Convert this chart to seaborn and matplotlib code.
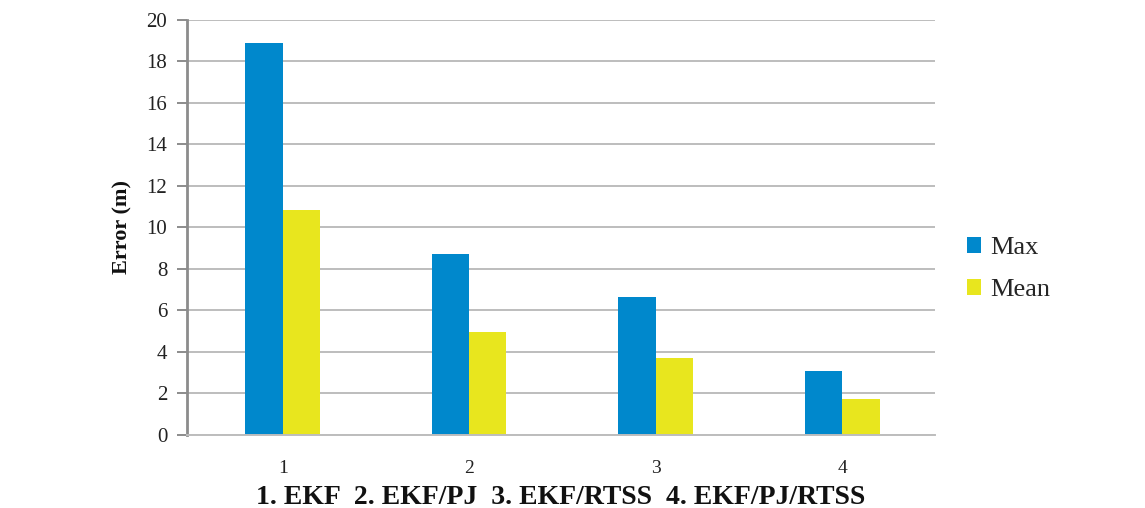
import matplotlib
matplotlib.use("Agg")
import matplotlib.pyplot as plt
import seaborn as sns
import pandas as pd

# Positioning error per filter configuration
categories = ["1", "2", "3", "4"]
max_error = [18.9, 8.72, 6.65, 3.08]
mean_error = [10.85, 4.96, 3.72, 1.72]
series_names = ["Max", "Mean"]
y_ticks = [0, 2, 4, 6, 8, 10, 12, 14, 16, 18, 20]

df = pd.DataFrame({
    "config": categories * 2,
    "series": [series_names[0]] * len(categories) + [series_names[1]] * len(categories),
    "error": max_error + mean_error,
})

sns.set_theme(style="white")
plt.rcParams["font.family"] = ["Liberation Serif", "DejaVu Serif"]

fig = plt.figure(figsize=(11.45, 5.08), dpi=100)
ax = fig.add_axes([0.163, 0.144, 0.654, 0.817])

palette = {"Max": "#0088CC", "Mean": "#E8E61E"}
sns.barplot(data=df, x="config", y="error", hue="series", palette=palette,
            width=0.4, gap=0, saturation=1, ax=ax, legend=True,
            edgecolor="none", linewidth=0)

ax.set_xlim(-0.515, 3.5)
ax.set_ylim(0, 20)
ax.set_yticks(y_ticks)
ax.yaxis.grid(True, color="#BDBDBD", linewidth=1.4)
ax.set_axisbelow(True)

for side in ("top", "right"):
    ax.spines[side].set_visible(False)
ax.spines["left"].set_color("#8C8C8C")
ax.spines["left"].set_linewidth(2)
ax.spines["bottom"].set_color("#BDBDBD")
ax.spines["bottom"].set_linewidth(1.4)

ax.tick_params(axis="y", which="both", left=True, length=7, width=1.4,
               color="#8C8C8C", labelsize=15, pad=7, labelcolor="#222222")
ax.tick_params(axis="x", bottom=False, labelsize=14, pad=12, labelcolor="#222222")

ax.set_ylabel("Error (m)", fontsize=16, fontweight="bold", labelpad=10, color="#111111")
ax.set_xlabel("1. EKF  2. EKF/PJ  3. EKF/RTSS  4. EKF/PJ/RTSS",
              fontsize=20, fontweight="bold", labelpad=6, color="#111111")

leg = ax.legend(loc="center left", bbox_to_anchor=(1.01, 0.40), frameon=False,
                fontsize=19, handlelength=0.55, handleheight=0.55,
                handletextpad=0.35, labelspacing=0.75)

fig.savefig("out.png", dpi=100)
